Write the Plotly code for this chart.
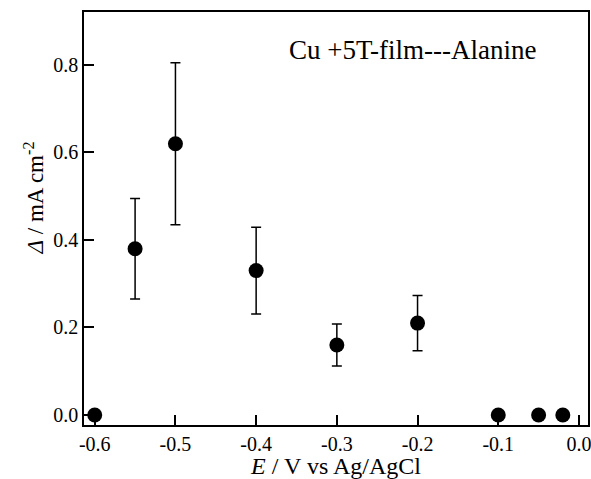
import plotly.graph_objects as go

potential = [-0.6, -0.55, -0.5, -0.4, -0.3, -0.2, -0.1, -0.05, -0.02]
delta_j = [0.0, 0.38, 0.62, 0.33, 0.16, 0.21, 0.0, 0.0, 0.0]
err = [0.0, 0.115, 0.185, 0.099, 0.048, 0.063, 0.0, 0.0, 0.0]
x_ticks = [-0.6, -0.5, -0.4, -0.3, -0.2, -0.1, 0.0]
x_tick_text = ["-0.6", "-0.5", "-0.4", "-0.3", "-0.2", "-0.1", "0.0"]
y_ticks = [0.0, 0.2, 0.4, 0.6, 0.8]
y_tick_text = ["0.0", "0.2", "0.4", "0.6", "0.8"]

font_family = "Times New Roman, Liberation Serif, serif"

fig = go.Figure()
fig.add_trace(go.Scatter(
    x=potential, y=delta_j, mode="markers",
    marker=dict(color="black", size=15),
    error_y=dict(type="data", array=err, visible=True, color="black",
                 thickness=1.5, width=5),
    showlegend=False,
))

axis_common = dict(
    showline=True, linecolor="black", linewidth=1.5, mirror=True,
    ticks="inside", ticklen=10, tickwidth=1.5, tickcolor="black",
    showgrid=False, zeroline=False, automargin=False,
    ticklabeloverflow="allow",
    tickfont=dict(family=font_family, size=20, color="black"),
)

fig.update_layout(
    width=591, height=479,
    margin=dict(l=84, r=3, t=12, b=54),
    paper_bgcolor="white", plot_bgcolor="white",
    font=dict(family=font_family, color="black", size=20),
    xaxis=dict(range=[-0.6133, 0.0112], tickvals=x_ticks, ticktext=x_tick_text,
               title=dict(text="<i>E</i> / V vs Ag/AgCl", font=dict(family=font_family, size=24), standoff=4),
               **axis_common),
    yaxis=dict(range=[-0.0229, 0.921], tickvals=y_ticks, ticktext=y_tick_text,
               **axis_common),
    annotations=[
        dict(text="Cu +5T-film---Alanine", x=0.651, y=0.908, xref="paper", yref="paper",
             showarrow=False, xanchor="center", yanchor="middle",
             font=dict(family=font_family, size=27, color="black")),
        dict(text="<i>Δ</i> / mA cm<sup>-2</sup>", x=-0.098, y=0.55, xref="paper", yref="paper",
             showarrow=False, xanchor="center", yanchor="middle", textangle=-90,
             font=dict(family=font_family, size=23, color="black")),
    ],
)

fig.write_html("out.html", config={"displayModeBar": False},
               post_script="document.body.style.margin='0';document.body.style.overflow='hidden';")
